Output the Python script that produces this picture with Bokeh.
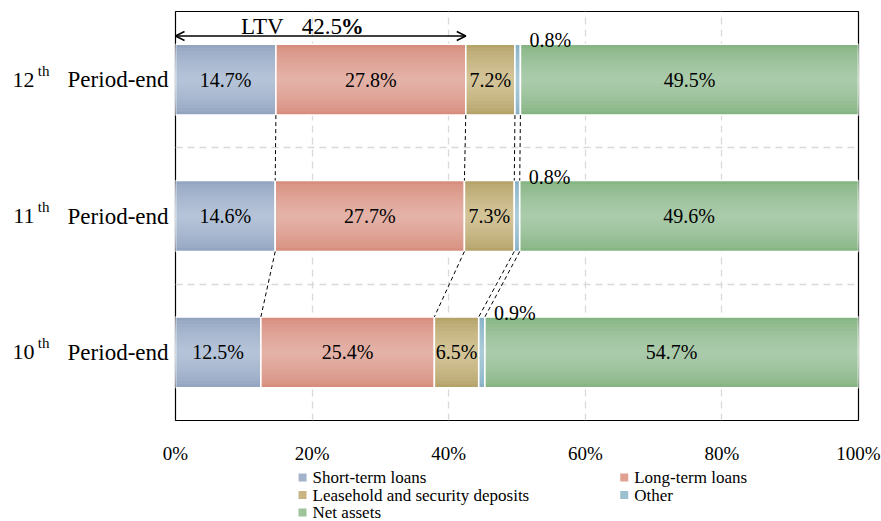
import numpy as np
from bokeh.plotting import figure
from bokeh.layouts import column
from bokeh.models import (ColumnDataSource, Range1d, FixedTicker,
                          Arrow, OpenHead, LinearAxis)
from bokeh.core.properties import value
from bokeh.embed import file_html
from bokeh.resources import INLINE

# ---------------- data ----------------
periods = ["10", "11", "12"]
period_suffix = "th"
period_text = "Period-end"
series_names = ["Short-term loans", "Long-term loans",
                "Leasehold and security deposits", "Other", "Net assets"]
short_term = [12.5, 14.6, 14.7]
long_term = [25.4, 27.7, 27.8]
leasehold = [6.5, 7.3, 7.2]
other = [0.9, 0.8, 0.8]
net_assets = [54.7, 49.6, 49.5]
x_ticks = [0, 20, 40, 60, 80, 100]
x_tick_labels = ["0%", "20%", "40%", "60%", "80%", "100%"]
ltv_label = "LTV"

# ---------------- style ----------------
FONT = "Liberation Serif"
BAR_H = 0.52
SUP_SHIFT = 0.066
edge_colors = ["#93a5c1", "#d78e7e", "#b6a36a", "#86b1c5", "#86b584"]
center_colors = ["#b5c3d8", "#e4b1a7", "#d3c498", "#abcbd8", "#aacbaa"]
legend_colors = ["#a3b3cc", "#e0a092", "#c8b682", "#9cc0cf", "#9cc39a"]
# legend grid layout (column x in axis %, row y in strip px from bottom)
LEG_COL_X = [18.6, 65.7]
LEG_ROW_Y = [44, 26.5, 9]
LEG_SLOTS = [(0, 0), (1, 0), (0, 1), (1, 1), (0, 2)]

series = [short_term, long_term, leasehold, other, net_assets]
ypos = [i + 0.5 for i in range(len(periods))]
n = len(periods)

def hex2rgb(h):
    return np.array([int(h[i:i + 2], 16) for i in (1, 3, 5)], dtype=float)

def mix(a, b, t):
    c = hex2rgb(a) * (1 - t) + hex2rgb(b) * t
    return "#%02x%02x%02x" % tuple(int(round(v)) for v in c)

p = figure(width=881, height=467, output_backend="svg", toolbar_location=None,
           x_range=Range1d(0, 100), y_range=Range1d(0, n),
           y_axis_location=None,
           min_border_left=175, min_border_right=23, min_border_top=11,
           min_border_bottom=47)
p.extra_y_ranges = {"sup": Range1d(-SUP_SHIFT, n - SUP_SHIFT)}
p.background_fill_color = "white"
p.border_fill_color = "white"
p.outline_line_color = "black"
p.outline_line_width = 1.2

# grid
p.xgrid.ticker = FixedTicker(ticks=x_ticks[1:-1])
p.xgrid.grid_line_color = "#d9d9d9"
p.xgrid.grid_line_dash = "7 5"
p.xgrid.grid_line_width = 1.3
p.ygrid.ticker = FixedTicker(ticks=[i for i in range(1, n)])
p.ygrid.grid_line_color = "#d9d9d9"
p.ygrid.grid_line_dash = "7 5"
p.ygrid.grid_line_width = 1.3

# x axis
p.xaxis.ticker = FixedTicker(ticks=x_ticks)
p.xaxis.major_label_overrides = {t: l for t, l in zip(x_ticks, x_tick_labels)}
p.xaxis.axis_line_color = None
p.xaxis.major_tick_line_color = None
p.xaxis.minor_tick_line_color = None
p.xaxis.major_tick_out = 0
p.xaxis.major_tick_in = 0
p.xaxis.major_label_standoff = 22
p.xaxis.major_label_text_font = FONT
p.xaxis.major_label_text_font_size = "19px"
p.xaxis.major_label_text_color = "black"

# category axes (Period-end, superscript, number)
def cat_axis(labels, size, standoff, range_name="default"):
    ax = LinearAxis(y_range_name=range_name, ticker=FixedTicker(ticks=ypos),
                    major_label_overrides={y: l for y, l in zip(ypos, labels)},
                    major_label_standoff=standoff,
                    major_label_text_font=FONT, major_label_text_font_size=size,
                    major_label_text_color="black",
                    axis_line_color=None, major_tick_line_color=None,
                    minor_tick_line_color=None, major_tick_out=0, major_tick_in=0)
    p.add_layout(ax, "left")

cat_axis([period_text] * n, "23px", 7)
cat_axis([period_suffix] * n, "15px", 15, "sup")
cat_axis(periods, "22px", 0)

# bars with simulated vertical gradient
cum = np.zeros(n)
lefts, rights = [], []
N = 10
for s, vals in enumerate(series):
    vals = np.array(vals, dtype=float)
    left = cum.copy()
    right = cum + vals
    lefts.append(left)
    rights.append(right)
    src = ColumnDataSource(dict(y=ypos, left=left, right=right))
    for k in range(N):
        t = (k / (N - 1)) ** 0.7
        h = BAR_H * (1 - k / N)
        p.hbar(y="y", left="left", right="right", height=h, source=src,
               fill_color=mix(edge_colors[s], center_colors[s], t),
               line_color=None)
    p.hbar(y="y", left="left", right="right", height=BAR_H, source=src,
           fill_color=None, line_color="white", line_width=1.6)
    cum = right

# connectors (dashed) between successive bars
xs0, ys0, xs1, ys1 = [], [], [], []
for i in range(n - 1, 0, -1):
    for j in range(4):
        xs0.append(rights[j][i]); ys0.append(ypos[i] - BAR_H / 2)
        xs1.append(rights[j][i - 1]); ys1.append(ypos[i - 1] + BAR_H / 2)
p.segment(x0=xs0, y0=ys0, x1=xs1, y1=ys1, line_color="black",
          line_dash="4 3", line_width=1)

# value labels inside bars
tx, ty, tt = [], [], []
for s, vals in enumerate(series):
    if s == 3:
        continue
    for i, v in enumerate(vals):
        tx.append((lefts[s][i] + rights[s][i]) / 2)
        ty.append(ypos[i])
        tt.append(f"{v:.1f}%")
p.text(x=tx, y=ty, text=tt, text_align="center", text_baseline="middle",
       text_font=value(FONT), text_font_size="20px", text_color="black")

# "Other" labels above right
ox = [rights[3][i] for i in range(n)]
oy = [ypos[i] + BAR_H / 2 for i in range(n)]
ot = [f"{v:.1f}%" for v in other]
p.text(x=ox, y=oy, text=ot, text_align="left", text_baseline="middle",
       x_offset=9, y_offset=-4,
       text_font=value(FONT), text_font_size="20px", text_color="black")

# LTV arrow
ltv = short_term[-1] + long_term[-1]
ya = ypos[-1] + BAR_H / 2 + 0.06
p.add_layout(Arrow(start=OpenHead(size=9, line_width=1.5),
                   end=OpenHead(size=9, line_width=1.5),
                   x_start=0, y_start=ya, x_end=ltv, y_end=ya,
                   line_width=1.5, line_color="black"))
p.text(x=[ltv / 2, ltv / 2], y=[ya, ya], text=[ltv_label, f"{ltv:.1f}"],
       x_offset=[-37, -19], y_offset=[-10, -10],
       text_align=["right", "left"], text_baseline="middle",
       text_font=value(FONT), text_font_size="23px", text_color="black")
p.text(x=[ltv / 2], y=[ya], text=["%"], x_offset=20, y_offset=-10,
       text_align="left", text_baseline="middle", text_font_style="bold",
       text_font=value(FONT), text_font_size="23px", text_color="black")

# ---------------- legend strip ----------------
LH = 54
pl = figure(width=881, height=LH, output_backend="svg", toolbar_location=None,
            x_range=Range1d(0, 100), y_range=Range1d(0, LH),
            x_axis_location=None, y_axis_location=None,
            min_border_left=175, min_border_right=23, min_border_top=0,
            min_border_bottom=0)
pl.outline_line_color = None
pl.xgrid.visible = False
pl.ygrid.visible = False
pl.background_fill_color = "white"
pl.border_fill_color = "white"

lx = [LEG_COL_X[c] for c, r in LEG_SLOTS]
ly = [LEG_ROW_Y[r] for c, r in LEG_SLOTS]
pl.scatter(x=lx, y=ly, marker="square", size=8, fill_color=legend_colors,
           line_color=None)
pl.text(x=lx, y=ly, text=series_names, x_offset=10, text_align="left",
        text_baseline="middle", text_font=value(FONT), text_font_size="17px",
        text_color="black")

open("out.html", "w").write(file_html(column(p, pl, spacing=0), INLINE))
